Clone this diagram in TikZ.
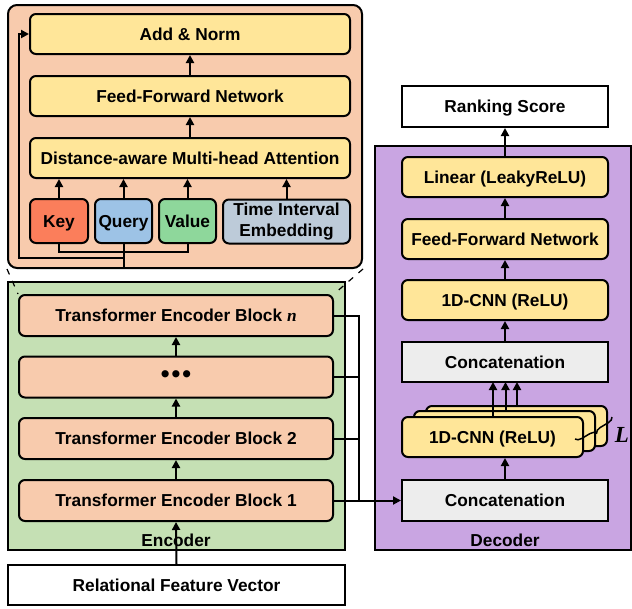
\documentclass[tikz,border=0pt]{standalone}
\usepackage{fontspec}
\setmainfont{Liberation Sans}
\newfontfamily\serifit{Liberation Serif}
\usetikzlibrary{arrows.meta,decorations.pathreplacing}
\definecolor{peach}{HTML}{F8CBAD}
\definecolor{ylw}{HTML}{FFE699}
\definecolor{keyc}{HTML}{FB7E5B}
\definecolor{queryc}{HTML}{9DC3E6}
\definecolor{valuec}{HTML}{8ED79B}
\definecolor{timec}{HTML}{BDCBD9}
\definecolor{grn}{HTML}{C5E0B4}
\definecolor{prp}{HTML}{C9A5E2}
\definecolor{gry}{HTML}{EDEDED}
\tikzset{
  capc/.style={text height=12.4pt, text depth=0pt},
  box/.style={draw=black, line width=2pt, rounded corners=6pt, inner sep=0pt, align=center, capc},
  ybox/.style={box, fill=ylw, minimum width=320pt, minimum height=40pt},
  dbox/.style={box, fill=ylw, minimum width=206pt, minimum height=40pt},
  ebox/.style={box, fill=peach, minimum width=314pt, minimum height=41pt},
  sbox/.style={draw=black, line width=2pt, inner sep=0pt, align=center, minimum width=206pt, minimum height=41pt, capc},
  panel/.style={draw=black, line width=2pt},
  conn/.style={draw=black, line width=2pt},
  arr/.style={conn, -{Triangle[length=8pt,width=8pt]}},
  zoomline/.style={draw=black, line width=1.2pt, dashed, dash pattern=on 6pt off 7pt}
}
\begin{document}
\begin{tikzpicture}[x=1pt,y=-1pt, font=\fontsize{17.3}{21}\selectfont\bfseries]
\useasboundingbox (0,0) rectangle (632,608);

% ---------- top detail panel ----------
\node[panel, fill=peach, rounded corners=9pt, minimum width=354pt, minimum height=263pt, inner sep=0pt] (topbox) at (185,136.5) {};
\node[ybox] (addnorm) at (190,34) {Add \& Norm};
\node[ybox] (ffn) at (190,96) {Feed-Forward Network};
\node[ybox] (dma) at (190,158) {Distance-aware Multi-head Attention};
\node[box, fill=keyc, minimum width=58pt, minimum height=44pt] (key) at (59,221) {Key};
\node[box, fill=queryc, minimum width=57pt, minimum height=44pt] (query) at (123.5,221) {Query};
\node[box, fill=valuec, minimum width=57pt, minimum height=44pt] (value) at (187.5,221) {Value};
\node[box, fill=timec, minimum width=127pt, minimum height=44pt, text height={}, text depth={}] (tie) at (286.5,221.5) {Time Interval\\Embedding};

\draw[arr] (ffn.north) -- (addnorm.south);
\draw[arr] (dma.north) -- (ffn.south);
\draw[arr] (key.north) -- (key.north |- dma.south);
\draw[arr] (query.north) -- (query.north |- dma.south);
\draw[arr] (value.north) -- (value.north |- dma.south);
\draw[arr] (tie.north) -- (tie.north |- dma.south);
\draw[conn] (key.south) -- ++(0,8) -| (value.south);
\draw[conn] (query.south) -- (query.south |- topbox.south);
\coordinate (resa) at (123.5,258);
\coordinate (resb) at (19,258);
\draw[arr] (resa) -- (resb) |- (addnorm.west);

% ---------- encoder ----------
\node[panel, fill=grn, minimum width=337pt, minimum height=268pt, inner sep=0pt] (enc) at (176.5,416) {};
\node[ebox] (blockn) at (176,315.5) {Transformer Encoder Block {\serifit\itshape\bfseries n}};
\node[ebox, text height={}, text depth={}] (dots) at (176,377) {{\fontsize{25}{25}\selectfont •\kern2pt•\kern2pt•}};
\node[ebox] (block2) at (176,438.5) {Transformer Encoder Block 2};
\node[ebox] (block1) at (176,500.5) {Transformer Encoder Block 1};
\node (enclab) at (176,540) {Encoder};
\node[panel, fill=white, minimum width=337pt, minimum height=40pt, inner sep=0pt, capc] (rfv) at (176.5,585) {Relational Feature Vector};

\draw[arr] (rfv.north) -- (block1.south);
\draw[arr] (block1.north) -- (block2.south);
\draw[arr] (block2.north) -- (dots.south);
\draw[arr] (dots.north) -- (blockn.south);

% zoom lines
\draw[zoomline] (topbox.south west) -- (blockn.north west);
\draw[zoomline] (topbox.south east) -- (blockn.north east);

% ---------- decoder ----------
\node[panel, fill=prp, minimum width=256pt, minimum height=404pt, inner sep=0pt] (dec) at (503,348) {};
\node[sbox, fill=white] (rank) at (505,106.5) {Ranking Score};
\node[dbox] (linear) at (505,177) {Linear (LeakyReLU)};
\node[dbox] (ffn2) at (505,239) {Feed-Forward Network};
\node[dbox] (cnn) at (505,300) {1D-CNN (ReLU)};
\node[sbox, fill=gry, minimum height=40pt] (concat2) at (505,362) {Concatenation};
\node[box, fill=ylw, minimum width=181pt, minimum height=40pt] (cnnc) at (516.5,426) {};
\node[box, fill=ylw, minimum width=181pt, minimum height=40pt] (cnnb) at (504.5,431) {};
\node[box, fill=ylw, minimum width=181pt, minimum height=40pt] (cnna) at (492.5,437) {1D-CNN (ReLU)};
\node[sbox, fill=gry] (concat1) at (505,500.5) {Concatenation};
\node (declab) at (505,540) {Decoder};

\draw[arr] (linear.north) -- (rank.south);
\draw[arr] (ffn2.north) -- (linear.south);
\draw[arr] (cnn.north) -- (ffn2.south);
\draw[arr] (concat2.north) -- (cnn.south);
\draw[arr] (493,417) -- (493,382);
\draw[arr] (505.5,411) -- (505.5,382);
\draw[arr] (517,406) -- (517,382);
\draw[arr] (concat1.north) -- (concat1.north |- cnna.south);

\draw[conn, line width=1.5pt, decorate, decoration={brace, amplitude=6pt}] (612,417) -- (575,439);
\node[font=\fontsize{23}{23}\selectfont\serifit\bfseries\itshape] (Llab) at (622,435) {L};

% encoder bus to decoder
\coordinate (busx) at (359,0);
\draw[conn] (blockn.east) -- (blockn.east -| busx) -- (block1.east -| busx);
\draw[conn] (dots.east) -- (dots.east -| busx);
\draw[conn] (block2.east) -- (block2.east -| busx);
\draw[arr] (block1.east) -- (concat1.west);
\end{tikzpicture}
\end{document}
